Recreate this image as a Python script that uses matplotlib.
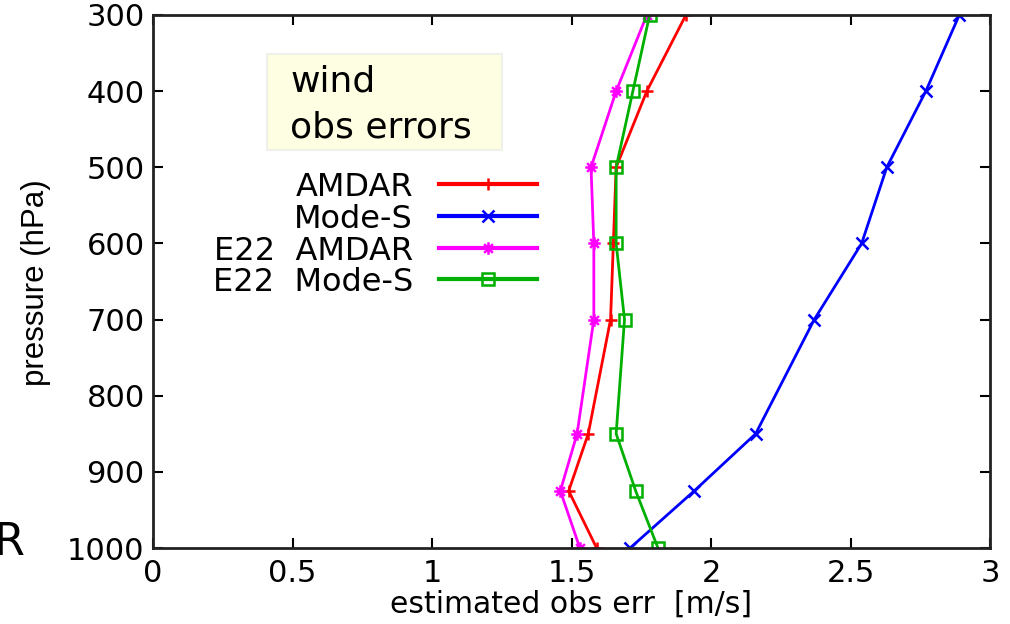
import matplotlib.pyplot as plt
from matplotlib.path import Path
from matplotlib.lines import Line2D
from matplotlib.patches import Rectangle

# pressure levels (hPa) and estimated wind obs errors (m/s)
pressure = [300, 400, 500, 600, 700, 850, 925, 1000]
amdar = [1.91, 1.77, 1.66, 1.65, 1.64, 1.56, 1.49, 1.59]
mode_s = [2.89, 2.77, 2.63, 2.54, 2.37, 2.16, 1.94, 1.71]
e22_amdar = [1.77, 1.66, 1.57, 1.58, 1.58, 1.52, 1.46, 1.53]
e22_mode_s = [1.78, 1.72, 1.66, 1.66, 1.69, 1.66, 1.73, 1.81]

labels = ['AMDAR', 'Mode-S', 'E22  AMDAR', 'E22  Mode-S']
colors = ['#ff0000', '#0000ff', '#ff00ff', '#00b000']

x_ticks = [0, 0.5, 1, 1.5, 2, 2.5, 3]
y_ticks = [300, 400, 500, 600, 700, 800, 900, 1000]

# gnuplot style star: plus and cross on top of each other
star = Path([(-1, 0), (1, 0), (0, -1), (0, 1),
             (-0.7, -0.7), (0.7, 0.7), (-0.7, 0.7), (0.7, -0.7)],
            [Path.MOVETO, Path.LINETO] * 4)

styles = [
    dict(marker='+', ms=9, mew=1.8),
    dict(marker='x', ms=8, mew=1.8),
    dict(marker=star, ms=9, mew=1.8),
    dict(marker='s', ms=8, mew=1.8, mfc='none'),
]

plt.rcParams['font.family'] = 'DejaVu Sans'

W, H = 1010, 624
fig = plt.figure(figsize=(W / 100, H / 100), dpi=100)
ax = fig.add_axes([153 / W, 1 - 548 / H, (990 - 153) / W, (548 - 15) / H])


def fx(px):
    return px / W


def fy(py):
    return 1 - py / H


series = [amdar, mode_s, e22_amdar, e22_mode_s]
for vals, c, st in zip(series, colors, styles):
    ax.plot(vals, pressure, color=c, lw=2, **st)

ax.set_xlim(0, 3)
ax.set_ylim(1000, 300)
ax.set_xticks(x_ticks)
ax.set_xticklabels(['0', '0.5', '1', '1.5', '2', '2.5', '3'])
ax.set_yticks(y_ticks)
ax.tick_params(direction='in', length=7, width=1.5, labelsize=22,
               top=True, right=True)
ax.tick_params(axis='x', pad=8)
ax.tick_params(axis='y', pad=6)
for sp in ax.spines.values():
    sp.set_linewidth(2)
    sp.set_color('#222222')

# axis titles
fig.text(fx(571), fy(604), 'estimated obs err  [m/s]', fontsize=21.5,
         ha='center', va='center')
fig.text(fx(36), fy(283), 'pressure (hPa)', fontsize=22.5, rotation=90,
         ha='center', va='center', family='Liberation Sans')

# title box
fig.add_artist(Rectangle((fx(267), fy(150)), (502 - 267) / W, (150 - 54) / H,
                         transform=fig.transFigure, facecolor='#fefee2',
                         edgecolor='#f0f0ea', lw=1.5))
fig.text(fx(290), fy(92), 'wind', fontsize=26, va='baseline')
fig.text(fx(290), fy(138), 'obs errors', fontsize=26, va='baseline')

# key
key_y = [184, 216, 248, 279]
for lab, c, st, yy in zip(labels, colors, styles, key_y):
    fig.text(fx(413), fy(yy + 12), lab, fontsize=23, ha='right',
             va='baseline')
    fig.add_artist(Line2D([fx(439), fx(488), fx(537)], [fy(yy)] * 3,
                          transform=fig.transFigure, color=c, lw=3,
                          markevery=[1], **st))

# panel letter partly cut off at the left edge
fig.text(fx(25), fy(555), 'R', fontsize=32, ha='right', va='baseline')

fig.savefig('out.png', dpi=100)
